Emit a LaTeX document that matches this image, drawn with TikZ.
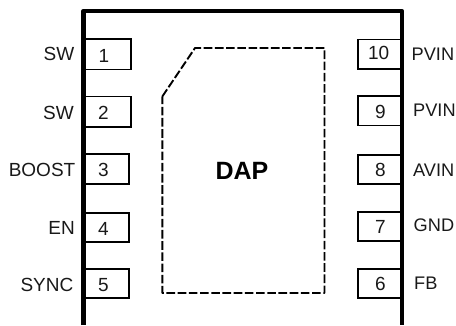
\documentclass[tikz,border=0pt]{standalone}
\usepackage{fontspec}
\setmainfont{Liberation Sans}
\tikzset{
  x=1pt,y=-1pt,
  pinbox/.style={draw=black,line width=1.8pt,fill=white,rectangle,inner sep=0pt},
  pinnum/.style={inner sep=0pt,font=\fontsize{19}{21}\selectfont,text=black!90},
  leftlabel/.style={anchor=east,inner sep=0pt,font=\fontsize{19}{21}\selectfont,text=black!90},
  rightlabel/.style={anchor=west,inner sep=0pt,font=\fontsize{18.2}{21}\selectfont,text=black!90},
  outline/.style={draw=black,line width=4.4pt,line join=round},
  daplabel/.style={inner sep=0pt,font=\fontsize{25}{27}\selectfont\bfseries},
  padline/.style={draw=black,line width=1.9pt,dash pattern=on 8.6pt off 2.6pt,line join=round}
}
\begin{document}
\begin{tikzpicture}
\useasboundingbox (0,0) rectangle (456,325);
% pins left
\node[pinbox,minimum width=46.5pt,minimum height=30.5pt] (p1) at (107.5,54.2) {};
\node[pinbox,minimum width=46.5pt,minimum height=30.5pt] (p2) at (107.5,111.7) {};
\node[pinbox,minimum width=44.5pt,minimum height=30pt] (p3) at (106.5,169.3) {};
\node[pinbox,minimum width=44.5pt,minimum height=29.5pt] (p4) at (106.5,227.4) {};
\node[pinbox,minimum width=44.5pt,minimum height=29.5pt] (p5) at (106.5,283.5) {};
% pins right
\node[pinbox,minimum width=44pt,minimum height=29.5pt] (p10) at (379.7,54.3) {};
\node[pinbox,minimum width=44pt,minimum height=29.5pt] (p9) at (379.7,110.7) {};
\node[pinbox,minimum width=44pt,minimum height=29pt] (p8) at (379.7,169.2) {};
\node[pinbox,minimum width=44pt,minimum height=29pt] (p7) at (379.7,226.5) {};
\node[pinbox,minimum width=44pt,minimum height=29pt] (p6) at (379.7,283.5) {};
% numbers
\node[pinnum] (n1) at (104,55.5) {1};
\node[pinnum] (n2) at (103.5,113) {2};
\node[pinnum] (n3) at (103.5,170) {3};
\node[pinnum] (n4) at (103.5,229) {4};
\node[pinnum] (n5) at (103.5,285) {5};
\node[pinnum] (n10) at (378.7,53) {10};
\node[pinnum] (n9) at (380.5,112) {9};
\node[pinnum] (n8) at (380.5,170) {8};
\node[pinnum] (n7) at (380.5,227) {7};
\node[pinnum] (n6) at (380.5,284) {6};
% package outline
\coordinate (bl) at (83.5,325);
\coordinate (tl) at (83.5,11);
\coordinate (tr) at (401.8,11);
\coordinate (br) at (401.8,325);
\draw[outline] (bl) -- (tl) -- (tr) -- (br);
% thermal pad
\coordinate (d1) at (162.3,96.5);
\coordinate (d2) at (195,48);
\coordinate (d3) at (324.5,48);
\coordinate (d4) at (324.5,293);
\coordinate (d5) at (162.3,293);
\draw[padline] (d1) -- (d2) -- (d3) -- (d4) -- (d5) -- cycle;
\node[daplabel] (dap) at (242,171) {DAP};
% labels
\node[leftlabel] (l1) at (74.5,54) {SW};
\node[leftlabel] (l2) at (74,113) {SW};
\node[leftlabel] (l3) at (75.5,170) {BOOST};
\node[leftlabel] (l4) at (75,228) {EN};
\node[leftlabel] (l5) at (73.5,285) {SYNC};
\node[rightlabel] (r10) at (411.5,54) {PVIN};
\node[rightlabel] (r9) at (413,110) {PVIN};
\node[rightlabel] (r8) at (413,170) {AVIN};
\node[rightlabel] (r7) at (413.5,225) {GND};
\node[rightlabel] (r6) at (414,283) {FB};
\end{tikzpicture}
\end{document}
